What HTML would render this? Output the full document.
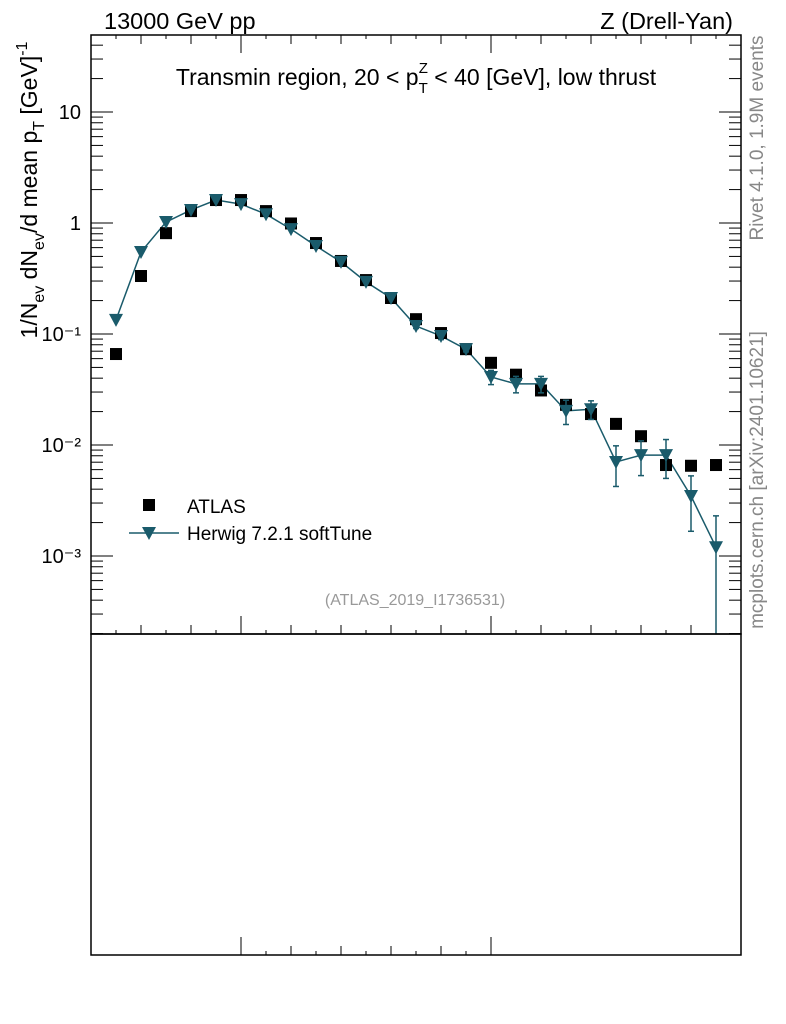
<!DOCTYPE html>
<html><head><meta charset="utf-8"><style>
body{margin:0;background:#fff;}
svg{display:block;font-family:"Liberation Sans",sans-serif;}
</style></head><body>
<svg id="c" width="786" height="1024" viewBox="0 0 786 1024">
<text x="104" y="29" font-size="23.5">13000 GeV pp</text>
<text x="733" y="29" font-size="23.5" text-anchor="end">Z (Drell-Yan)</text>
<text x="416" y="85" font-size="23" text-anchor="middle">Transmin region, 20 &lt; p<tspan font-size="15" dy="8">T</tspan><tspan font-size="15" dx="-9" dy="-20">Z</tspan><tspan dy="12"> &lt; 40 [GeV], low thrust</tspan></text>
<text transform="translate(37,190) rotate(-90)" font-size="23" text-anchor="middle">1/N<tspan font-size="16" dy="7">ev</tspan><tspan dy="-7"> dN</tspan><tspan font-size="16" dy="7">ev</tspan><tspan dy="-7">/d mean p</tspan><tspan font-size="16" dy="7">T</tspan><tspan dy="-7"> [GeV]</tspan><tspan font-size="16" dy="-10">-1</tspan></text>
<text transform="translate(763,138) rotate(-90)" font-size="19" fill="#888" text-anchor="middle">Rivet 4.1.0,  1.9M events</text>
<text transform="translate(763,480) rotate(-90)" font-size="19" fill="#888" text-anchor="middle">mcplots.cern.ch [arXiv:2401.10621]</text>
<text x="415" y="605" font-size="16" fill="#999" text-anchor="middle">(ATLAS_2019_I1736531)</text>
<g id="axes"></g>
<g id="marks"></g>
<rect x="91" y="35" width="650" height="599" fill="none" stroke="#000" stroke-width="1.5"/>
<rect x="91" y="634" width="650" height="321" fill="none" stroke="#000" stroke-width="1.5"/>
<rect x="143" y="499" width="12" height="12" fill="#000"/>
<text x="187" y="513" font-size="19">ATLAS</text>
<line x1="129" y1="533" x2="179" y2="533" stroke="#1a5b6b" stroke-width="1.5"/>
<polygon points="142,527 156,527 149,540" fill="#1a5b6b"/>
<text x="187" y="540" font-size="19">Herwig 7.2.1 softTune</text>
</svg>
<script>
const atlasVals=[0.066,0.333,0.81,1.28,1.61,1.61,1.28,0.99,0.66,0.455,0.306,0.211,0.136,0.102,0.073,0.055,0.043,0.031,0.023,0.019,0.0155,0.012,0.0066,0.0065,0.0066];
const herwigVals=[0.134,0.548,1.02,1.31,1.61,1.48,1.2,0.88,0.62,0.446,0.295,0.211,0.118,0.096,0.073,0.041,0.0355,0.0355,0.0203,0.021,0.00703,0.0081,0.0081,0.00347,0.0012];
const herwigErrUp=[0,0,0,0,0,0,0,0,0,0,0,0,0.006,0.007,0.004,0.006,0.006,0.006,0.005,0.004,0.0028,0.0028,0.0031,0.0018,0.0011];
const herwigErrDn=[0,0,0,0,0,0,0,0,0,0,0,0,0.006,0.007,0.004,0.006,0.006,0.006,0.005,0.004,0.0028,0.0028,0.0031,0.0018,0.0011];
const yTickVals=[10,1,0.1,0.01,0.001];
const yTickLabels=["10","1","10⁻¹","10⁻²","10⁻³"];
const NS="http://www.w3.org/2000/svg";
const X0=91,X1=741,YT=35,YB=634;
function xPos(i){return 116+25*i;}
function yPos(v){return 223-111*Math.log10(v);}
function mk(tag,attrs,parent){const e=document.createElementNS(NS,tag);for(const k in attrs)e.setAttribute(k,attrs[k]);parent.appendChild(e);return e;}
const ax=document.getElementById('axes'),mg=document.getElementById('marks');
for(let d=-4;d<=1;d++){for(let m=1;m<10;m++){const v=m*Math.pow(10,d);const y=yPos(v);if(y<YT||y>YB)continue;const L=m===1?22:12;
const t1=mk('line',{x1:X0,x2:X0+L,y1:y,y2:y,stroke:'#000','stroke-width':1},ax);


const t2=mk('line',{x1:X1,x2:X1-L,y1:y,y2:y,stroke:'#000','stroke-width':1},ax);

}}
yTickVals.forEach((v,i)=>{const t=mk('text',{x:81,y:yPos(v)+7,'font-size':20,'text-anchor':'end'},ax);t.textContent=yTickLabels[i];

});
for(let k=0;k<=26;k++){const x=X0+25*k;if(x>X1)break;const major=(k-6)%10===0;const L=major?18:(k%2===0?9:4);
const t=mk('line',{x1:x,x2:x,y1:YB,y2:YB-L,stroke:'#000','stroke-width':1},ax);


const t3=mk('line',{x1:x,x2:x,y1:YT,y2:YT+L,stroke:'#000','stroke-width':1},ax);


if(x>=241&&x<=505){const t2=mk('line',{x1:x,x2:x,y1:955,y2:955-L,stroke:'#000','stroke-width':1},ax);

}}
const pts=herwigVals.map((v,i)=>xPos(i)+','+yPos(v)).join(' ');
const pl=mk('polyline',{points:pts,fill:'none',stroke:'#1a5b6b','stroke-width':1.5},mg);


atlasVals.forEach((v,i)=>{const r=mk('rect',{x:xPos(i)-6,y:yPos(v)-6,width:12,height:12,fill:'#000'},mg);

});
herwigVals.forEach((v,i)=>{const x=xPos(i),y=yPos(v);
if(herwigErrUp[i]>0){const lo=v-herwigErrDn[i];const y2=lo>0?Math.min(yPos(lo),YB):YB;
const e=mk('line',{x1:x,x2:x,y1:yPos(v+herwigErrUp[i]),y2:y2,stroke:'#1a5b6b','stroke-width':1.5},mg);


const c1=mk('line',{x1:x-3,x2:x+3,y1:yPos(v+herwigErrUp[i]),y2:yPos(v+herwigErrUp[i]),stroke:'#1a5b6b','stroke-width':1.5},mg);


if(y2<YB){const c2=mk('line',{x1:x-3,x2:x+3,y1:y2,y2:y2,stroke:'#1a5b6b','stroke-width':1.5},mg);

}}
const p=mk('polygon',{points:`${x-7},${y-6} ${x+7},${y-6} ${x},${y+7}`,fill:'#1a5b6b'},mg);

});
</script>
</body></html>
